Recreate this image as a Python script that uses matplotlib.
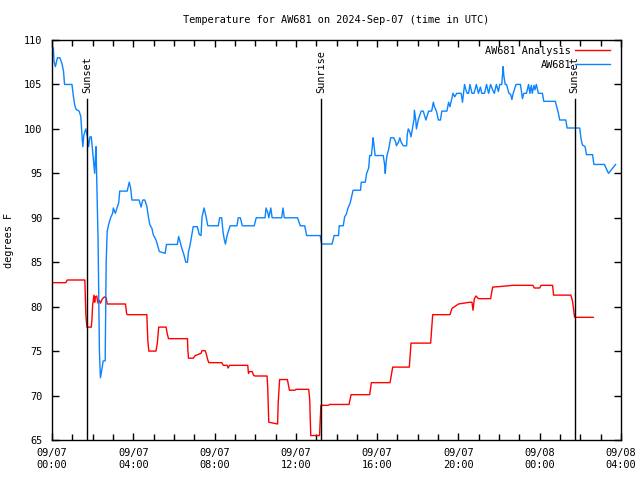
import numpy as np
import matplotlib
matplotlib.use('Agg')
import matplotlib.pyplot as plt
import matplotlib.dates as mdates

# hours after 2024-09-07 00:00 UTC, temperatures in F
obs_hours = [0.07, 0.10, 0.16, 0.26, 0.39, 0.49, 0.56, 0.62, 0.98, 1.05, 1.11, 1.18, 1.34, 1.41,
             1.48, 1.51, 1.57, 1.67, 1.74, 1.80, 1.87, 1.93, 2.00, 2.07, 2.10, 2.13, 2.16, 2.20,
             2.26, 2.33, 2.39, 2.46, 2.52, 2.62, 2.66, 2.72, 2.79, 2.89, 2.98, 3.02, 3.11, 3.18,
             3.28, 3.34, 3.70, 3.80, 3.87, 3.94, 4.29, 4.39, 4.46, 4.56, 4.66, 4.75, 4.82, 4.92,
             4.98, 5.12, 5.18, 5.28, 5.57, 5.64, 6.16, 6.23, 6.30, 6.39, 6.49, 6.59, 6.66, 6.72,
             6.79, 6.89, 6.95, 7.15, 7.25, 7.33, 7.39, 7.49, 7.59, 7.66, 8.18, 8.25, 8.35, 8.41,
             8.48, 8.54, 8.61, 8.67, 8.77, 9.10, 9.16, 9.26, 9.36, 9.95, 10.05, 10.48, 10.54,
             10.61, 10.67, 10.77, 10.84, 11.30, 11.36, 11.43, 12.08, 12.21, 12.44, 12.54, 13.20,
             13.26, 13.79, 13.89, 14.10, 14.13, 14.33, 14.40, 14.49, 14.56, 14.66, 14.72, 14.82,
             15.18, 15.21, 15.41, 15.48, 15.58, 15.64, 15.71, 15.77, 15.80, 15.84, 15.90, 16.30,
             16.36, 16.40, 16.43, 16.49, 16.56, 16.66, 16.82, 16.92, 16.95, 17.05, 17.12, 17.18,
             17.28, 17.45, 17.48, 17.54, 17.61, 17.67, 17.74, 17.81, 17.84, 17.90, 17.94, 18.04,
             18.17, 18.26, 18.33, 18.40, 18.46, 18.53, 18.69, 18.76, 18.82, 18.92, 19.02, 19.12,
             19.18, 19.44, 19.51, 19.58, 19.64, 19.74, 19.81, 19.91, 20.13, 20.20, 20.30, 20.36,
             20.43, 20.50, 20.56, 20.66, 20.76, 20.89, 20.99, 21.09, 21.15, 21.28, 21.38, 21.48,
             21.58, 21.68, 21.77, 21.87, 21.97, 22.04, 22.13, 22.20, 22.23, 22.30, 22.36, 22.49,
             22.56, 22.63, 22.69, 22.76, 22.83, 23.05, 23.08, 23.15, 23.22, 23.35, 23.45, 23.51,
             23.58, 23.64, 23.71, 23.77, 23.84, 23.94, 24.14, 24.20, 24.76, 24.83, 24.92, 24.99,
             25.28, 25.35, 25.97, 26.04, 26.10, 26.23, 26.30, 26.60, 26.66, 27.19, 27.38, 27.73]
obs_temp = [109.1, 107.6, 107.0, 108.0, 108.0, 107.4, 106.5, 105.0, 105.0, 103.7, 102.7, 102.2, 102.0, 101.4,
            99.0, 98.0, 99.3, 100.0, 99.2, 98.0, 99.1, 99.1, 97.5, 96.0, 95.0, 96.7, 98.0, 94.5,
            87.5, 75.0, 72.0, 73.1, 73.9, 73.9, 85.1, 88.5, 89.2, 90.0, 90.5, 91.1, 90.5, 91.0,
            91.7, 93.0, 93.0, 94.0, 93.4, 92.0, 92.0, 91.2, 92.0, 92.0, 91.3, 90.0, 89.2, 88.8,
            88.1, 87.5, 87.0, 86.2, 86.0, 87.0, 87.0, 87.9, 87.3, 86.6, 85.9, 85.0, 85.0, 86.2,
            86.8, 88.1, 89.0, 89.0, 88.1, 88.0, 90.1, 91.1, 90.1, 89.1, 89.1, 90.0, 90.0, 88.4,
            87.5, 87.05, 88.0, 88.4, 89.1, 89.1, 90.0, 90.0, 89.1, 89.1, 90.0, 90.0, 91.1,
            90.6, 90.0, 91.1, 90.0, 90.0, 91.1, 90.0, 90.0, 89.1, 89.1, 88.0, 88.0,
            87.05, 87.05, 88.0, 88.0, 89.1, 89.1, 90.1, 90.4, 91.1, 91.6, 92.1, 93.1,
            93.1, 94.0, 94.0, 95.0, 95.6, 97.0, 97.0, 98.1, 99.0, 98.4, 97.0, 97.0,
            96.0, 95.0, 96.1, 97.0, 97.7, 99.0, 99.0, 98.5, 98.1, 98.5, 99.0, 98.5,
            98.1, 98.1, 99.4, 100.0, 99.6, 99.1, 100.0, 101.1, 102.1, 101.0, 100.0, 101.1,
            102.0, 102.0, 101.5, 101.0, 101.5, 102.0, 102.0, 103.0, 102.5, 102.0, 101.0, 101.0,
            102.0, 102.0, 103.0, 102.5, 103.0, 104.0, 103.6, 104.0, 104.0, 103.0, 105.0, 104.4,
            104.0, 104.0, 105.0, 104.0, 104.0, 105.0, 104.0, 104.7, 104.0, 104.0, 105.0, 104.0,
            105.0, 104.4, 104.0, 105.0, 104.2, 105.0, 105.0, 107.0, 106.0, 105.0, 105.0, 104.0,
            103.9, 103.3, 103.9, 104.5, 105.0, 105.0, 104.5, 103.4, 104.0, 104.0, 105.0, 104.0,
            104.9, 104.0, 104.9, 104.4, 105.0, 104.0, 104.0, 103.1, 103.1, 102.5, 101.8, 101.0,
            101.0, 100.1, 100.1, 98.9, 98.2, 98.0, 97.1, 97.1, 96.0, 96.0, 95.0, 96.0]

ana_hours = [0.03, 0.69, 0.75, 1.61, 1.64, 1.67, 1.71, 1.94, 1.97, 2.00, 2.07, 2.10, 2.13, 2.20,
             2.26, 2.33, 2.39, 2.49, 2.59, 2.66, 2.72, 3.61, 3.67, 3.70, 4.66, 4.69, 4.72, 4.76,
             5.12, 5.18, 5.25, 5.61, 5.67, 5.74, 6.66, 6.69, 6.72, 6.95, 7.05, 7.33, 7.39, 7.53,
             7.59, 7.66, 7.72, 8.35, 8.44, 8.61, 8.67, 8.74, 9.63, 9.66, 9.72, 9.85, 9.92, 9.99,
             10.58, 10.61, 10.67, 11.10, 11.13, 11.20, 11.59, 11.69, 11.95, 12.02, 12.64, 12.68,
             12.71, 12.74, 13.17, 13.20, 13.23, 13.59, 13.66, 14.62, 14.72, 15.64, 15.71, 16.63,
             16.76, 17.58, 17.67, 18.63, 18.73, 19.58, 19.68, 20.00, 20.56, 20.66, 20.72, 20.79,
             20.86, 20.99, 21.58, 21.68, 21.97, 22.69, 23.67, 23.74, 24.00, 24.07, 24.63, 24.69,
             25.54, 25.61, 25.68, 25.71, 26.63]
ana_temp = [82.7, 82.7, 83.0, 83.0, 81.6, 79.1, 77.7, 77.7, 78.6, 80.2, 81.3, 80.5, 81.1, 81.2,
            80.4, 80.7, 80.4, 80.9, 81.1, 81.0, 80.3, 80.3, 79.3, 79.1, 79.1, 78.1, 76.1, 75.0,
            75.0, 75.9, 77.7, 77.7, 77.0, 76.4, 76.4, 75.2, 74.2, 74.2, 74.5, 74.75, 75.05, 75.05,
            74.75, 74.0, 73.7, 73.7, 73.4, 73.4, 73.1, 73.4, 73.4, 72.5, 72.7, 72.7, 72.3, 72.2,
            72.2, 70.8, 67.0, 66.8, 69.3, 71.8, 71.8, 70.6, 70.6, 70.7, 70.7, 69.5,
            66.7, 65.5, 65.5, 67.3, 68.9, 68.9, 69.0, 69.0, 70.1, 70.1, 71.45, 71.45,
            73.2, 73.2, 75.9, 75.9, 79.1, 79.1, 79.8, 80.3, 80.5, 80.5, 79.6, 80.9,
            81.2, 80.9, 80.9, 82.2, 82.25, 82.4, 82.4, 82.1, 82.1, 82.4, 82.4, 81.3,
            81.3, 80.6, 79.4, 78.8, 78.8]

sun_hours = [1.73, 13.25, 25.72]
sun_labels = ['Sunset', 'Sunrise', 'Sunset']

start = np.datetime64('2024-09-07T00:00')


def to_time(hours):
    return start + np.round(np.array(hours) * 60).astype(int).astype('timedelta64[m]')


plt.rcParams['font.family'] = 'DejaVu Sans Mono'
plt.rcParams['font.size'] = 7.4

fig = plt.figure(figsize=(6.4, 4.8), dpi=100)
ax = fig.add_axes([52 / 640, 40 / 480, 569 / 640, 400 / 480])

ax.plot(to_time(ana_hours), ana_temp, color='#ff0000', lw=1.0, label='AW681 Analysis')
ax.plot(to_time(obs_hours), obs_temp, color='#0a84ff', lw=1.0, label='AW681')

for h, lab in zip(sun_hours, sun_labels):
    t = to_time([h])[0]
    ax.axvline(t, ymin=0, ymax=0.8525, color='black', lw=1.0)
    ax.text(t, 104.0, lab, rotation=90, ha='center', va='bottom', fontsize=7.4)

ax.set_xlim(np.datetime64('2024-09-07T00:00'), np.datetime64('2024-09-08T04:00'))
ax.set_ylim(65, 110)
ax.set_yticks(np.arange(65, 111, 5))
ax.xaxis.set_major_locator(mdates.HourLocator(byhour=range(0, 24, 4)))
ax.xaxis.set_minor_locator(mdates.HourLocator())
ax.xaxis.set_major_formatter(mdates.DateFormatter('%m/%d\n%H:%M'))
ax.tick_params(which='both', direction='in', top=True, right=True, width=1)
ax.tick_params(which='major', length=5)
ax.tick_params(which='minor', length=4)
ax.tick_params(axis='x', pad=6)
ax.tick_params(axis='y', pad=7)
for s in ax.spines.values():
    s.set_linewidth(1.0)

ax.set_ylabel('degrees F')
ax.yaxis.set_label_coords(-0.066, 0.5)
ax.set_title('Temperature for AW681 on 2024-Sep-07 (time in UTC)', fontsize=7.4, pad=12)
ax.legend(loc='upper right', bbox_to_anchor=(0.981, 0.985), frameon=False, markerfirst=False,
          handlelength=3.4, borderaxespad=0, borderpad=0, labelspacing=0.35, handletextpad=0.4,
          fontsize=7.4)

fig.savefig('out.png', dpi=100)
